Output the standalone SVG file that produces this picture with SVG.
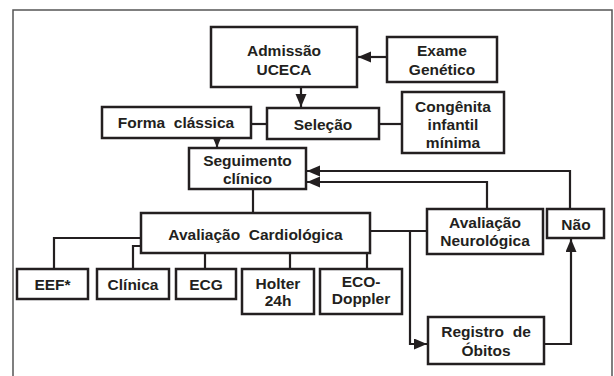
<svg xmlns="http://www.w3.org/2000/svg" width="614" height="376" viewBox="0 0 614 376">
<style>
.box{fill:#fff;stroke:#231f20;stroke-width:2.5}
.ln{fill:none;stroke:#231f20;stroke-width:2.2}
text{font-family:"Liberation Sans",Arial,sans-serif;font-weight:bold;font-size:15.5px;fill:#231f20;text-anchor:middle;white-space:pre}
</style>
<defs>
<marker id="ah" markerUnits="userSpaceOnUse" markerWidth="14" markerHeight="12" refX="13" refY="5.5" orient="auto">
<path d="M0,0 L13,5.5 L0,11 Z" fill="#231f20"/>
</marker>
</defs>
<rect x="0" y="0" width="614" height="376" fill="#fff"/>
<path d="M13,380 L13,10 L612,10 L612,380" fill="none" stroke="#555" stroke-width="1.5"/>
<g id="connectors">
<line class="ln" x1="387" y1="57" x2="358" y2="57" marker-end="url(#ah)"/>
<line class="ln" x1="301" y1="87" x2="301" y2="107" marker-end="url(#ah)"/>
<line class="ln" x1="251" y1="124" x2="267" y2="124"/>
<line class="ln" x1="379" y1="124" x2="402" y2="124"/>
<line class="ln" x1="217" y1="138" x2="217" y2="147.5" marker-end="url(#ah)"/>
<polyline class="ln" points="570,209 570,171 307,171" marker-end="url(#ah)"/>
<polyline class="ln" points="487,209 487,182 307,182" marker-end="url(#ah)"/>
<line class="ln" x1="253" y1="189" x2="253" y2="213"/>
<line class="ln" x1="370" y1="231" x2="427" y2="231"/>
<polyline class="ln" points="410,231 410,344 427,344" marker-end="url(#ah)"/>
<polyline class="ln" points="544,344 571,344 571,239" marker-end="url(#ah)"/>
<polyline class="ln" points="141,238 54,238 54,269"/>
<polyline class="ln" points="141,246 133,246 133,269"/>
<line class="ln" x1="205" y1="253" x2="205" y2="269"/>
<line class="ln" x1="290" y1="253" x2="290" y2="269"/>
<line class="ln" x1="367" y1="253" x2="367" y2="269"/>
</g>
<g id="admissao"><rect class="box" x="211" y="27" width="146" height="60"/><text x="284" y="56">Admissão</text><text x="284" y="75">UCECA</text></g>
<g id="exame"><rect class="box" x="387" y="37" width="110" height="45"/><text x="442" y="56">Exame</text><text x="442" y="75">Genético</text></g>
<g id="forma"><rect class="box" x="102" y="107" width="149" height="31"/><text x="176" y="128">Forma  clássica</text></g>
<g id="selecao"><rect class="box" x="267" y="108" width="112" height="31"/><text x="323" y="130">Seleção</text></g>
<g id="congenita"><rect class="box" x="402" y="92" width="102" height="61"/><text x="453" y="112">Congênita</text><text x="453" y="130">infantil</text><text x="453" y="148">mínima</text></g>
<g id="seguimento"><rect class="box" x="189" y="148" width="117" height="41"/><text x="247.5" y="166">Seguimento</text><text x="247.5" y="184">clínico</text></g>
<g id="cardio"><rect class="box" x="141" y="213" width="229" height="40"/><text x="255.5" y="240">Avaliação  Cardiológica</text></g>
<g id="neuro"><rect class="box" x="427" y="209" width="116" height="45"/><text x="485" y="228">Avaliação</text><text x="485" y="246">Neurológica</text></g>
<g id="nao"><rect class="box" x="547" y="209" width="57" height="29"/><text x="576" y="230">Não</text></g>
<g id="eef"><rect class="box" x="17" y="269" width="71" height="30"/><text x="52.5" y="290">EEF*</text></g>
<g id="clinica"><rect class="box" x="97" y="269" width="72" height="30"/><text x="133" y="290">Clínica</text></g>
<g id="ecg"><rect class="box" x="176" y="269" width="60" height="30"/><text x="206" y="290">ECG</text></g>
<g id="holter"><rect class="box" x="242" y="269" width="72" height="45"/><text x="278" y="289">Holter</text><text x="278" y="306">24h</text></g>
<g id="eco"><rect class="box" x="320" y="269" width="82" height="45"/><text x="361" y="287">ECO-</text><text x="361" y="304">Doppler</text></g>
<g id="registro"><rect class="box" x="428" y="317" width="116" height="47"/><text x="486" y="337">Registro  de</text><text x="486" y="356">Óbitos</text></g>
</svg>
